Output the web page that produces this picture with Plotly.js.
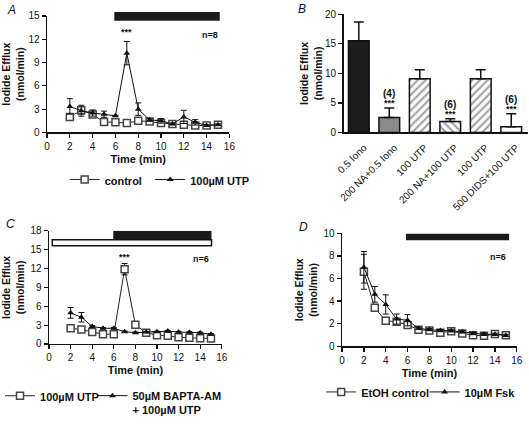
<!DOCTYPE html>
<html>
<head>
<meta charset="utf-8">
<script src="https://cdn.plot.ly/plotly-3.0.1.min.js"></script>
<style>html,body{margin:0;padding:0;background:#fff;}#chart{width:529px;height:424px;}</style>
</head>
<body>
<div id="chart"></div>
<script>
// ---------- Panel A ----------
const timeA = [2,3,4,5,6,7,8,9,10,11,12,13,14,15];
const controlA = [2.0,2.85,2.3,1.35,1.3,1.2,1.5,1.4,1.2,1.1,0.98,0.9,0.9,1.0];
const controlA_err = [0.15,0.5,0.3,0.1,0.1,0.1,0.2,0.1,0.1,0.1,0.1,0.1,0.1,0.1];
const utpA = [3.35,2.8,2.5,2.35,2.15,10.2,3.0,1.6,1.5,1.1,2.0,1.3,0.9,1.0];
const utpA_err = [1.0,0.7,0.4,0.4,0.05,1.5,0.8,0.15,0.3,0.1,0.85,0.35,0.1,0.1];
const periodA = [5.9, 15.15];

// ---------- Panel B ----------
const catB = ['0.5 Iono','200 NA+0.5 Iono','100 UTP','200 NA+100 UTP','100 UTP','500 DIDS+100 UTP'];
const valB = [15.5,2.55,9.1,1.85,9.1,0.95];
const errB = [3.2,1.6,1.5,0.45,1.5,2.2];
const nB = ['', '(4)', '', '(6)', '', '(6)'];
const sigB = ['', '***', '', '***', '', '***'];

// ---------- Panel C ----------
const timeC = [2,3,4,5,6,7,8,9,10,11,12,13,14,15];
const utpC = [2.5,2.3,1.9,1.55,1.55,11.9,3.05,1.8,1.4,1.3,1.05,1.0,0.9,0.87];
const utpC_err = [0.2,0.15,0.1,0.1,0.1,0.9,0.2,0.1,0.1,0.1,0.1,0.1,0.1,0.1];
const baptaC = [4.95,4.25,2.8,2.5,2.5,1.95,1.8,1.9,1.93,2.05,1.9,1.85,1.78,1.55];
const baptaC_err = [0.85,0.75,0.15,0.1,0.1,0.1,0.1,0.1,0.1,0.1,0.1,0.1,0.1,0.1];
const periodC_utp = [5.95, 15.05];
const periodC_bapta = [0.3, 15.05];

// ---------- Panel D ----------
const timeD = [2,3,4,5,6,7,8,9,10,11,12,13,14,15];
const etohD = [6.6,3.4,2.25,2.17,1.88,1.46,1.4,1.2,1.33,1.12,0.97,0.92,1.07,0.96];
const etohD_err = [1.55,0.3,0.15,0.1,0.15,0.1,0.1,0.1,0.1,0.1,0.1,0.1,0.1,0.1];
const fskD = [7.0,4.6,3.7,2.4,2.3,1.57,1.47,1.38,1.37,1.27,1.12,1.05,1.05,0.95];
const fskD_err = [1.4,0.7,0.85,0.45,0.5,0.1,0.1,0.1,0.1,0.1,0.1,0.1,0.1,0.1];
const periodD = [5.85, 15.3];

const FF = 'Liberation Sans, Arial, Helvetica, sans-serif';
const K = '#111';

function sqTrace(x, y, e, name, xa, ya, leg) {
  return {x, y, name, type:'scatter', mode:'lines+markers', xaxis:xa, yaxis:ya, legend:leg,
    line:{color:'#222', width:1},
    marker:{symbol:'square', size:7, color:'#fff', line:{color:'#444', width:1.5}},
    error_y:{type:'data', array:e, visible:true, color:K, thickness:1, width:3}};
}
function triTrace(x, y, e, name, xa, ya, leg) {
  return {x, y, name, type:'scatter', mode:'lines+markers', xaxis:xa, yaxis:ya, legend:leg,
    line:{color:'#111', width:1},
    marker:{symbol:'triangle-up', size:6, color:'#111'},
    error_y:{type:'data', array:e, visible:true, color:K, thickness:1, width:3}};
}

const traces = [
  sqTrace(timeA, controlA, controlA_err, 'control', 'x', 'y', 'legend'),
  triTrace(timeA, utpA, utpA_err, '100\u00b5M UTP', 'x', 'y', 'legend2'),
  {x:[0,1,2,3,4,5], y:valB, type:'bar', xaxis:'x2', yaxis:'y2', showlegend:false, width:0.68,
    marker:{color:['#1c1c1c','#8a8a8a','#fff','#fff','#fff','#fff'],
      line:{color:K, width:1.5},
      pattern:{shape:['','','/','\\','/',''], fgcolor:K, bgcolor:'#fff', size:5.5, solidity:0.4, fillmode:'overlay'}},
    error_y:{type:'data', symmetric:false, array:errB, arrayminus:[0,0,0,0,0,0], color:K, thickness:1.5, width:5}},
  sqTrace(timeC, utpC, utpC_err, '100\u00b5M UTP', 'x3', 'y3', 'legend3'),
  triTrace(timeC, baptaC, baptaC_err, '50\u00b5M BAPTA-AM<br>+ 100\u00b5M UTP', 'x3', 'y3', 'legend4'),
  sqTrace(timeD, etohD, etohD_err, 'EtOH control', 'x4', 'y4', 'legend5'),
  triTrace(timeD, fskD, fskD_err, '10\u00b5M Fsk', 'x4', 'y4', 'legend6')
];

function ax(extra) {
  return Object.assign({showline:true, linecolor:K, linewidth:1.5, ticks:'outside', ticklen:4, tickwidth:1.2,
    tickcolor:K, showgrid:false, zeroline:false, tickfont:{family:FF, size:10, color:K}, fixedrange:true}, extra);
}
function ytitle(s) { return {text:'Iodide Efflux<br>(nmol/min)', font:{family:FF, size:10.5, weight:'bold', color:K}, standoff:s}; }
const xtitle = {text:'Time (min)', font:{family:FF, size:11, weight:'bold', color:K}, standoff:4};

const W = 529, H = 424;
const px = v => v / W, py = v => 1 - v / H;

const shapes = [
  {type:'rect', xref:'x', yref:'y domain', x0:periodA[0], x1:periodA[1], y0:0.959, y1:1.033, fillcolor:'#1a1a1a', line:{width:0}},
  {type:'rect', xref:'x3', yref:'y3', x0:periodC_utp[0], x1:periodC_utp[1], y0:16.7, y1:18, fillcolor:'#1a1a1a', line:{width:0}},
  {type:'rect', xref:'x3', yref:'y3', x0:periodC_bapta[0], x1:periodC_bapta[1], y0:15.65, y1:16.6, fillcolor:'#fff', line:{color:K, width:1.5}},
  {type:'rect', xref:'x4', yref:'y4', x0:periodD[0], x1:periodD[1], y0:9.4, y1:10, fillcolor:'#1a1a1a', line:{width:0}}
];

const small = {family:FF, size:9, weight:'bold', color:K};
const letter = {family:FF, size:12, style:'italic', color:K};
const annotations = [
  {text:'A', xref:'paper', yref:'paper', x:px(2), y:py(1), xanchor:'left', yanchor:'top', showarrow:false, font:letter},
  {text:'B', xref:'paper', yref:'paper', x:px(295), y:py(0), xanchor:'left', yanchor:'top', showarrow:false, font:letter},
  {text:'C', xref:'paper', yref:'paper', x:px(1), y:py(226), xanchor:'left', yanchor:'top', showarrow:false, font:letter},
  {text:'D', xref:'paper', yref:'paper', x:px(296), y:py(229), xanchor:'left', yanchor:'top', showarrow:false, font:letter},
  {text:'***', xref:'x', yref:'y', x:7, y:12.9, showarrow:false, font:small},
  {text:'n=8', xref:'x', yref:'y', x:15.2, y:12.6, xanchor:'right', showarrow:false, font:small},
  {text:'***', xref:'x3', yref:'y3', x:7, y:13.8, showarrow:false, font:small},
  {text:'n=6', xref:'x3', yref:'y3', x:15.05, y:13.5, xanchor:'right', showarrow:false, font:small},
  {text:'n=6', xref:'x4', yref:'y4', x:15.2, y:7.95, xanchor:'right', showarrow:false, font:small}
];
nB.forEach((t, i) => {
  if (t) annotations.push({text:t, xref:'x2', yref:'y2', x:i, y:valB[i] + errB[i] + 2.5, showarrow:false, font:{family:FF, size:10, weight:'bold', color:K}});
  if (sigB[i]) annotations.push({text:sigB[i], xref:'x2', yref:'y2', x:i, y:valB[i] + errB[i] + 0.8, showarrow:false, font:small});
});

const legFont = {family:FF, size:11, weight:'bold', color:K};
function leg(xp, yp) {
  return {orientation:'h', x:px(xp), y:py(yp), xanchor:'left', yanchor:'top', font:legFont, valign:'top', bgcolor:'rgba(0,0,0,0)'};
}
const layout = {
  width:W, height:H, margin:{l:0, r:0, t:0, b:0}, paper_bgcolor:'#fff', plot_bgcolor:'#fff',
  font:{family:FF, color:K},
  xaxis: ax({domain:[px(44.3), px(227.7)], range:[0,16], dtick:2, anchor:'y', title:xtitle}),
  yaxis: ax({domain:[py(139), py(16.7)], range:[0,15], dtick:3, anchor:'x', title:ytitle(6)}),
  xaxis2: ax({domain:[px(342.5), px(528)], range:[-0.5,5.55], anchor:'y2', ticks:'', tickvals:[0,1,2,3,4,5], ticktext:catB, tickangle:-45, ticklabelstandoff:4, ticklabelshift:5, tickfont:{family:FF, size:10, color:K}}),
  yaxis2: ax({domain:[py(139), py(15)], range:[0,20], dtick:5, anchor:'x2', title:ytitle(0)}),
  xaxis3: ax({domain:[px(46.3), px(220)], range:[0,16], dtick:2, anchor:'y3', title:xtitle}),
  yaxis3: ax({domain:[py(361), py(242.3)], range:[0,18], dtick:3, anchor:'x3', title:ytitle(6)}),
  xaxis4: ax({domain:[px(341), px(516.7)], range:[0,16], dtick:2, anchor:'y4', title:xtitle}),
  yaxis4: ax({domain:[py(363.3), py(245)], range:[0,10], dtick:2, anchor:'x4', title:ytitle(4)}),
  legend: leg(62, 174),
  legend2: leg(148, 174),
  legend3: leg(-3, 401),
  legend4: leg(90, 401),
  legend5: leg(320, 397),
  legend6: leg(424, 397),
  shapes, annotations,
  showlegend:true
};

Plotly.newPlot('chart', traces, layout, {staticPlot:true, displayModeBar:false});
</script>
</body>
</html>
